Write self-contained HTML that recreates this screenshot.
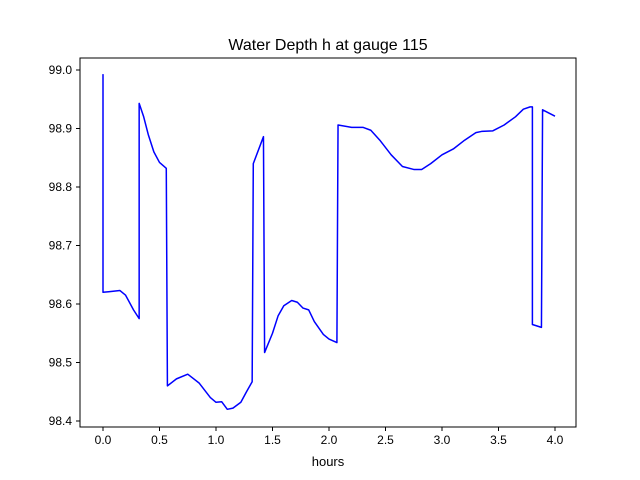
<!DOCTYPE html>
<html><head><meta charset="utf-8"><style>
body{margin:0;background:#fff;}
svg{display:block;font-family:"Liberation Sans","DejaVu Sans",sans-serif;}
</style></head><body>
<svg id="chart" width="640" height="480">
<rect width="640" height="480" fill="#fff"/>
<text x="328" y="50" text-anchor="middle" font-size="16">Water Depth h at gauge 115</text>
<g id="plot"></g>
<rect x="80" y="58" width="496" height="369" fill="none" stroke="#000" stroke-width="1"/>
<text x="328" y="466" text-anchor="middle" font-size="13">hours</text>
</svg>
<script>
const hours=[0,0,0.05,0.15,0.2,0.27,0.32,0.32,0.36,0.4,0.45,0.5,0.56,0.57,0.65,0.75,0.85,0.95,1.0,1.05,1.1,1.15,1.22,1.27,1.32,1.33,1.42,1.43,1.5,1.55,1.6,1.67,1.72,1.77,1.82,1.87,1.95,2.0,2.07,2.08,2.2,2.3,2.37,2.45,2.55,2.65,2.75,2.82,2.9,3.0,3.1,3.2,3.3,3.35,3.45,3.55,3.65,3.72,3.78,3.8,3.8,3.88,3.89,4.0];
const depth=[98.993,98.62,98.621,98.623,98.615,98.59,98.575,98.943,98.92,98.89,98.86,98.842,98.832,98.46,98.472,98.48,98.465,98.44,98.432,98.433,98.42,98.422,98.432,98.45,98.467,98.84,98.886,98.517,98.55,98.58,98.597,98.606,98.603,98.593,98.59,98.57,98.548,98.54,98.534,98.906,98.902,98.902,98.897,98.88,98.855,98.835,98.83,98.83,98.84,98.855,98.865,98.88,98.893,98.895,98.896,98.906,98.92,98.933,98.937,98.937,98.565,98.56,98.932,98.921];
const xTicks=[0,0.5,1,1.5,2,2.5,3,3.5,4];
const xTickLabels=["0.0","0.5","1.0","1.5","2.0","2.5","3.0","3.5","4.0"];
const yTicks=[98.4,98.5,98.6,98.7,98.8,98.9,99.0];
const yTickLabels=["98.4","98.5","98.6","98.7","98.8","98.9","99.0"];
const NS="http://www.w3.org/2000/svg";
const xS=v=>103+v*113;
const yS=v=>421-(v-98.4)*585;
const g=document.getElementById('plot');
function mk(t,a){const e=document.createElementNS(NS,t);for(const k in a)e.setAttribute(k,a[k]);return e;}
xTicks.forEach((v,i)=>{
 const t=mk('line',{x1:xS(v),x2:xS(v),y1:427,y2:431,stroke:'#000'});
 
 
 g.appendChild(t);
 const l=mk('text',{x:xS(v),y:444,'text-anchor':'middle','font-size':'12'});
 
 
 l.textContent=xTickLabels[i];g.appendChild(l);
});
yTicks.forEach((v,i)=>{
 const t=mk('line',{x1:76,x2:80,y1:yS(v),y2:yS(v),stroke:'#000'});
 
 
 g.appendChild(t);
 const l=mk('text',{x:72,y:yS(v)+4,'text-anchor':'end','font-size':'12'});
 
 
 l.textContent=yTickLabels[i];g.appendChild(l);
});
const p=mk('polyline',{points:hours.map((h,i)=>xS(h)+','+yS(depth[i])).join(' '),fill:'none',stroke:'#0000ff','stroke-width':'1.5','stroke-linejoin':'round'});


g.appendChild(p);
</script>
</body></html>
